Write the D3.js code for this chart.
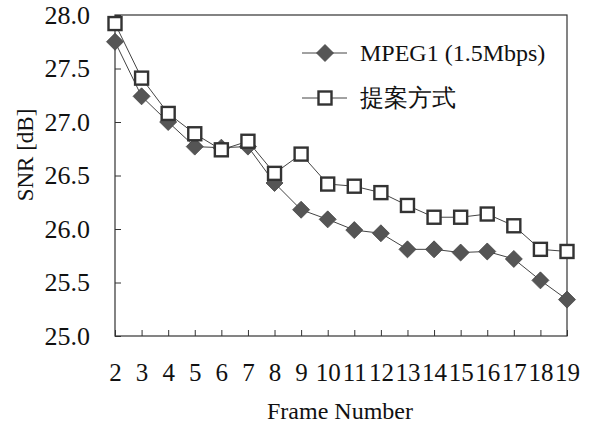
<!DOCTYPE html>
<html>
<head>
<meta charset="utf-8">
<script src="https://cdn.jsdelivr.net/npm/d3@7"></script>
<style>
body{margin:0;background:#fff;}
text{font-family:"Liberation Serif","Times New Roman",serif;fill:#111;}
</style>
</head>
<body>
<svg id="chart" width="590" height="426"></svg>
<script>
var frames = [2,3,4,5,6,7,8,9,10,11,12,13,14,15,16,17,18,19];
var mpeg1 = [27.75,27.24,27.0,26.77,26.76,26.77,26.43,26.18,26.09,25.99,25.96,25.81,25.81,25.78,25.79,25.72,25.52,25.34];
var proposed = [27.92,27.41,27.08,26.89,26.74,26.82,26.52,26.70,26.42,26.40,26.34,26.22,26.11,26.11,26.14,26.03,25.81,25.79];
var yTicks = [25.0,25.5,26.0,26.5,27.0,27.5,28.0];
var seriesNames = ['MPEG1 (1.5Mbps)','提案方式'];

var margin = {top:15, right:23, bottom:90, left:115},
    width = 590 - margin.left - margin.right,
    height = 426 - margin.top - margin.bottom;

var svg = d3.select('#chart');
var g = svg.append('g').attr('transform','translate('+margin.left+','+margin.top+')');

var x = d3.scaleLinear().domain([2,19]).range([0,width]);
var y = d3.scaleLinear().domain([25,28]).range([height,0]);

// frame
g.append('rect')
    .attr('x',0).attr('y',0)
    .attr('width',width).attr('height',height)
    .attr('fill','none')
    .attr('stroke','#333')
    .attr('stroke-width',1.2);

// ticks point inward
var xAxis = g.append('g').attr('transform','translate(0,'+height+')')
    .call(d3.axisBottom(x).tickValues(frames).tickSizeInner(-6).tickSizeOuter(0).tickPadding(27).tickFormat(d3.format('d')));
xAxis.select('.domain').remove();
xAxis.selectAll('line').attr('stroke','#333');
xAxis.selectAll('text').style('font-size','25px').attr('fill','#111');

var yAxis = g.append('g')
    .call(d3.axisLeft(y).tickValues(yTicks).tickSizeInner(-6).tickSizeOuter(0).tickPadding(25).tickFormat(d3.format('.1f')));
yAxis.select('.domain').remove();
yAxis.selectAll('line').attr('stroke','#333');
yAxis.selectAll('text').style('font-size','26px').attr('fill','#111');

// axis titles
svg.append('text')
    .attr('x',340)
    .attr('y',419)
    .attr('text-anchor','middle')
    .style('font-size','24px')
    .text('Frame Number');

svg.append('text')
    .attr('transform','translate(33,155) rotate(-90)')
    .attr('text-anchor','middle')
    .style('font-size','23px')
    .text('SNR [dB]');

var line = d3.line().x((d,i) => x(frames[i])).y(d => y(d));

g.append('path').datum(mpeg1)
    .attr('d',line).attr('fill','none').attr('stroke','#444').attr('stroke-width',1);
g.append('path').datum(proposed)
    .attr('d',line).attr('fill','none').attr('stroke','#444').attr('stroke-width',1);

var diamond = function(s){ return 'M0,'+(-s)+'L'+s+',0L0,'+s+'L'+(-s)+',0Z'; };

function drawDiamonds(sel){
    sel.append('path')
        .attr('d',diamond(8.5))
        .attr('fill','#555')
        .attr('stroke','#444')
        .attr('stroke-width',0.8);
}
function drawSquares(sel){
    sel.append('rect')
        .attr('x',-6.5).attr('y',-6.5)
        .attr('width',13).attr('height',13)
        .attr('fill','#fff')
        .attr('stroke','#333')
        .attr('stroke-width',2.4);
}

g.selectAll('.mpeg')
    .data(mpeg1)
    .join('g')
    .attr('class','mpeg')
    .attr('transform',(d,i) => 'translate('+x(frames[i])+','+y(d)+')')
    .call(drawDiamonds);

g.selectAll('.prop')
    .data(proposed)
    .join('g')
    .attr('class','prop')
    .attr('transform',(d,i) => 'translate('+x(frames[i])+','+y(d)+')')
    .call(drawSquares);

// legend
var legend = svg.append('g');
var legY = [53,98];
seriesNames.forEach(function(name,i){
    var lg = legend.append('g').attr('transform','translate(0,'+legY[i]+')');
    lg.append('line').attr('x1',302).attr('x2',347).attr('y1',0).attr('y2',0)
        .attr('stroke','#444').attr('stroke-width',1);
    var m = lg.append('g').attr('transform','translate(325,0)');
    if(i == 0) drawDiamonds(m); else drawSquares(m);
    lg.append('text').attr('x',360).attr('y',8).style('font-size','24px').text(name);
});
</script>
</body>
</html>
